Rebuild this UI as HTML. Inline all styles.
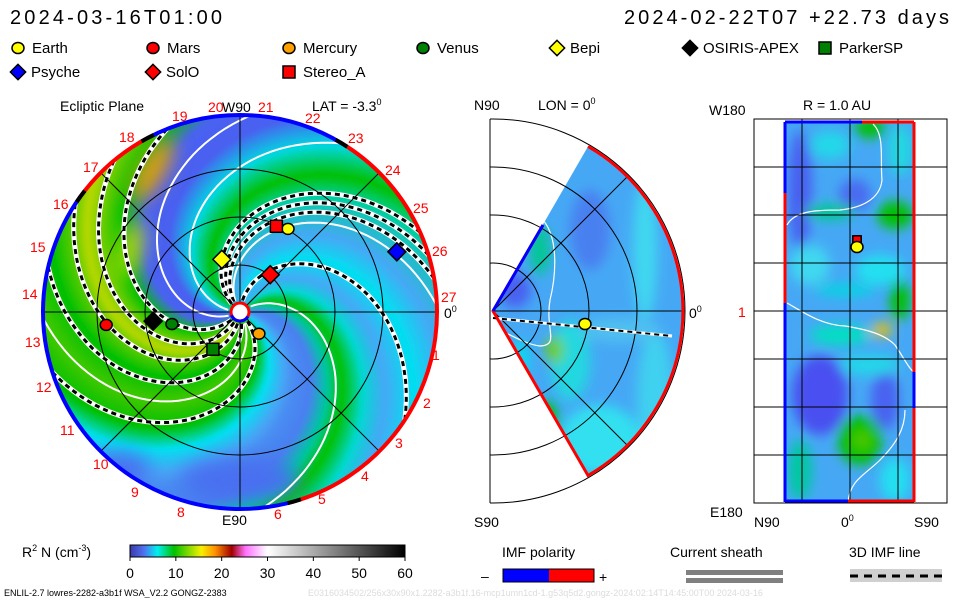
<!DOCTYPE html>
<html><head><meta charset="utf-8"><style>
html,body{margin:0;padding:0;background:#fff;}
svg{display:block;font-family:"Liberation Sans",sans-serif;}
</style></head><body>
<svg id="root" width="960" height="600" viewBox="0 0 960 600" xmlns="http://www.w3.org/2000/svg">
<defs>
<clipPath id="diskClip"><circle cx="240" cy="312" r="197"/></clipPath>
<clipPath id="midClip"><rect x="490" y="118" width="200" height="386"/></clipPath>
<clipPath id="wedgeClip"><path d="M493,311 L588,146.5 A190,190 0 0 1 588,475.5 Z"/></clipPath>
<clipPath id="rectClip"><rect x="785" y="122" width="129" height="380"/></clipPath>
<filter id="blur6" x="-50%" y="-50%" width="200%" height="200%"><feGaussianBlur stdDeviation="6"/></filter>
<filter id="blur10" x="-50%" y="-50%" width="200%" height="200%"><feGaussianBlur stdDeviation="10"/></filter>
<filter id="blur2"><feGaussianBlur stdDeviation="1.5"/></filter>
<linearGradient id="cbar" x1="0" x2="1" y1="0" y2="0">
<stop offset="0" stop-color="#3a3aa8"/><stop offset="0.05" stop-color="#5070f0"/><stop offset="0.1" stop-color="#00f0f0"/>
<stop offset="0.16" stop-color="#00c000"/><stop offset="0.26" stop-color="#f8f000"/><stop offset="0.31" stop-color="#ff9000"/>
<stop offset="0.37" stop-color="#a00000"/><stop offset="0.42" stop-color="#ff70ff"/><stop offset="0.5" stop-color="#ffffff"/>
<stop offset="1" stop-color="#000000"/></linearGradient>
</defs>

<text x="10" y="24" font-size="20" textLength="212">2024-03-16T01:00</text>
<text x="624" y="24" font-size="20" textLength="325">2024-02-22T07 +22.73 days</text>

<g id="legend" font-size="15"></g>

<g>
  <g id="disk" clip-path="url(#diskClip)"></g>
  <g id="diskLines" clip-path="url(#diskClip)"></g>
  <g id="diskGrid" stroke="#000" stroke-width="1" fill="none"></g>
  <g id="diskBorder" fill="none" stroke-width="4"></g>
  <g id="diskLabels" fill="#ff0000" font-size="14"></g>
  <g id="markers"></g>
  <text x="60" y="111" font-size="14">Ecliptic Plane</text>
  <text x="222" y="112" font-size="14">W90</text>
  <text x="312" y="111" font-size="14">LAT = -3.3<tspan font-size="9" dy="-6">0</tspan></text>
  <text x="222" y="525" font-size="14">E90</text>
  <text x="444" y="318" font-size="14">0<tspan font-size="9" dy="-6">0</tspan></text>
</g>

<g>
  <g id="mid"></g>
  <text x="474" y="110" font-size="14">N90</text>
  <text x="538" y="110" font-size="14">LON = 0<tspan font-size="9" dy="-6">0</tspan></text>
  <text x="474" y="527" font-size="14">S90</text>
  <text x="689" y="318" font-size="14">0<tspan font-size="9" dy="-6">0</tspan></text>
</g>

<g>
  <g id="right"></g>
  <text x="709" y="115" font-size="14">W180</text>
  <text x="803" y="110" font-size="14">R = 1.0 AU</text>
  <text x="738" y="317" font-size="14" fill="#ff0000">1</text>
  <text x="710" y="517" font-size="14">E180</text>
  <text x="754" y="527" font-size="14">N90</text>
  <text x="841" y="527" font-size="14">0<tspan font-size="9" dy="-6">0</tspan></text>
  <text x="914" y="527" font-size="14">S90</text>
</g>

<g>
  <text x="22" y="557" font-size="14">R<tspan font-size="9" dy="-6">2</tspan><tspan dy="6"> N (cm</tspan><tspan font-size="9" dy="-6">-3</tspan><tspan dy="6">)</tspan></text>
  <rect x="130" y="545" width="275" height="12" fill="url(#cbar)" stroke="#000" stroke-width="1"/>
  <g id="cbTicks" font-size="14"></g>
</g>

<g>
  <text x="502" y="557" font-size="14">IMF polarity</text>
  <text x="481" y="581" font-size="14">–</text>
  <rect x="503" y="569" width="46" height="13" fill="#0000ff"/>
  <rect x="549" y="569" width="45" height="13" fill="#ff0000"/>
  <rect x="503" y="569" width="91" height="13" fill="none" stroke="#000"/>
  <text x="599" y="582" font-size="14">+</text>
</g>
<g>
  <text x="670" y="557" font-size="14">Current sheath</text>
  <rect x="686" y="570" width="97" height="5" fill="#808080"/>
  <rect x="686" y="578" width="97" height="5" fill="#808080"/>
</g>
<g>
  <text x="849" y="557" font-size="14">3D IMF line</text>
  <rect x="850" y="569" width="92" height="13" fill="#d0d0d0"/>
  <line x1="850" y1="576" x2="942" y2="576" stroke="#000" stroke-width="3" stroke-dasharray="8,6"/>
</g>
<text x="4" y="596" font-size="9">ENLIL-2.7 lowres-2282-a3b1f WSA_V2.2 GONGZ-2383</text>
<text x="308" y="596" font-size="9" fill="#dcdcdc">E0316034502/256x30x90x1.2282-a3b1f.16-mcp1umn1cd-1.g53q5d2.gongz-2024:02:14T14:45:00T00    2024-03-16</text>
</svg>
<script>
// ---- data ----
const bodyNames = ["Earth","Stereo_A","Bepi","SolO","Psyche","Mercury","ParkerSP","Venus","OSIRIS-APEX","Mars"];
const bodyLonDeg = [60,67,109,51,21,-49,234,190,186,185.5];
const bodyRadiusAU = [1.0,0.97,0.58,0.50,1.75,0.30,0.48,0.72,0.91,1.40];
const colorbarTicks = [0,10,20,30,40,50,60];
const phiStops = [0,15,28,40,55,70,90,110,140,155,175,195,215,232,248,256,265,280,300,320,335,350,360];
const phiColors = ["#4a8cf2","#4a80f0","#00c8a0","#00c000","#00d8d0","#46a8f5","#00e0f0","#46a8f5","#00d0a0","#00c000","#00d8e0","#4a60f0","#4a62f0","#00c000","#80d000","#b8d800","#60cc00","#00c000","#40c800","#00c000","#00e0f0","#46a8f5","#4a8cf2"];
const dashPhi = [135,128,142,230,248,265,285,316,85];
const whitePhi = [35,177,300,205,120];

const NS="http://www.w3.org/2000/svg";
const cx=240, cy=312, R=197, pxPerAU=96, K=0.6;
function mk(tag,attrs,parent){const e=document.createElementNS(NS,tag);for(const k in attrs)e.setAttribute(k,attrs[k]);parent.appendChild(e);return e;}
function hex(c){return [parseInt(c.substr(1,2),16),parseInt(c.substr(3,2),16),parseInt(c.substr(5,2),16)];}
function colorAt(phi){phi=((phi%360)+360)%360;for(let i=0;i<phiStops.length-1;i++){if(phi>=phiStops[i]&&phi<=phiStops[i+1]){const t=(phi-phiStops[i])/(phiStops[i+1]-phiStops[i]);const a=hex(phiColors[i]),b=hex(phiColors[i+1]);return "rgb("+a.map((v,j)=>Math.round(v+(b[j]-v)*t)).join(",")+")";}}return phiColors[0];}
function sp(phi,r){const th=(phi-K*r)*Math.PI/180;return [cx+r*Math.cos(th),cy-r*Math.sin(th)];}
function spiralPts(phi,r0,r1){const p=[];for(let r=r0;r<=r1;r+=4)p.push(sp(phi,r));return p;}

// density field
const disk=document.getElementById('disk');
const bg=mk('circle',{cx:cx,cy:cy,r:R,fill:"#46a8f5"},disk);


const field=mk('g',{filter:"url(#blur2)"},disk);
for(let phi=0;phi<360;phi+=2){
  const a=spiralPts(phi,0,212), b=spiralPts(phi+2.6,0,212).reverse();
  const pts=a.concat(b).map(p=>p[0].toFixed(1)+","+p[1].toFixed(1)).join(" ");
  const poly=mk('polygon',{points:pts,fill:colorAt(phi+1)},field);
  
  
}
// orange enhancement near top-left edge
const ob=mk('g',{filter:"url(#blur10)"},disk);


mk('ellipse',{cx:152,cy:170,rx:12,ry:36,fill:"#f0a000",transform:"rotate(30 152 170)"},ob);
mk('ellipse',{cx:130,cy:250,rx:10,ry:30,fill:"#c8e000",transform:"rotate(15 130 250)"},ob);
mk('ellipse',{cx:240,cy:480,rx:60,ry:22,fill:"#4a70f0"},ob);
mk('ellipse',{cx:120,cy:470,rx:30,ry:18,fill:"#4a70f0"},ob);
// field lines
const lines=document.getElementById('diskLines');
whitePhi.forEach(phi=>{
  const d="M"+spiralPts(phi,12,212).map(p=>p[0].toFixed(1)+","+p[1].toFixed(1)).join(" L");
  const l=mk('path',{d:d,fill:"none",stroke:"#fff","stroke-width":2},lines);
  
  
});
dashPhi.forEach(phi=>{
  const d="M"+spiralPts(phi,12,212).map(p=>p[0].toFixed(1)+","+p[1].toFixed(1)).join(" L");
  const w=mk('path',{d:d,fill:"none",stroke:"#fff","stroke-width":5},lines);
  
  
  const k=mk('path',{d:d,fill:"none",stroke:"#000","stroke-width":3,"stroke-dasharray":"5,4"},lines);
  
  
});
// grid
const grid=document.getElementById('diskGrid');
[0.5,1.0,1.5].forEach(au=>{const c=mk('circle',{cx:cx,cy:cy,r:au*pxPerAU-1},grid);});
[0,45,90,135].forEach(a=>{const t=a*Math.PI/180;const l=mk('line',{x1:cx-R*Math.cos(t),y1:cy+R*Math.sin(t),x2:cx+R*Math.cos(t),y2:cy-R*Math.sin(t)},grid);});
// border arcs
const borderSegs=[[-74,59,"#ff0000"],[59,118,"#0000ff"],[118,144,"#ff0000"],[144,286,"#0000ff"]];
const bord=document.getElementById('diskBorder');
function arcPath(a0,a1,r){const p0=[cx+r*Math.cos(a0*Math.PI/180),cy-r*Math.sin(a0*Math.PI/180)],p1=[cx+r*Math.cos(a1*Math.PI/180),cy-r*Math.sin(a1*Math.PI/180)];return "M"+p0[0]+","+p0[1]+" A"+r+","+r+" 0 "+((a1-a0)>180?1:0)+" 0 "+p1[0]+","+p1[1];}
borderSegs.forEach(s=>{const p=mk('path',{d:arcPath(s[0],s[1],R),stroke:s[2]},bord);});
[59,118,144,-74].forEach(a=>{const p=mk('path',{d:arcPath(a-2,a+2,R),stroke:"#000"},bord);});
// carrington labels
const labNames=["19","20","21","22","23","24","25","26","27","1","2","3","4","5","6","8","9","10","11","12","13","14","15","16","17","18"];
const labX=[172,208,258,305,348,385,413,432,441,432,423,395,361,318,274,177,131,93,60,36,25,22,30,53,83,119];
const labY=[121,112,112,123,143,175,213,256,302,360,408,448,481,504,519,517,497,469,435,392,347,299,252,209,172,142];
const ll=document.getElementById('diskLabels');
labNames.forEach((n,i)=>{const t=mk('text',{x:labX[i],y:labY[i]},ll);t.textContent=n;});
// sun
const sunG=mk('g',{},document.getElementById('markers'));


mk('circle',{cx:cx,cy:cy,r:9,fill:"#fff",stroke:"#ff0000","stroke-width":3},sunG);
mk('path',{d:arcPath(200,330,9),stroke:"#0000ff","stroke-width":3,fill:"none"},sunG);

// markers
const styles={"Earth":["circle","#ffff00"],"Stereo_A":["square","#ff0000"],"Bepi":["diamond","#ffff00"],"SolO":["diamond","#ff0000"],"Psyche":["diamond","#0000ff"],"Mercury":["circle","#ffa000"],"ParkerSP":["square","#008000"],"Venus":["circle","#008000"],"OSIRIS-APEX":["diamond","#000000"],"Mars":["circle","#ff0000"]};
function marker(shape,fill,x,y,parent,s){
  s=s||1;
  if(shape==="circle")return mk('ellipse',{cx:x,cy:y,rx:6*s,ry:5.5*s,fill:fill,stroke:"#000","stroke-width":1.5},parent);
  if(shape==="square")return mk('rect',{x:x-6*s,y:y-6*s,width:12*s,height:12*s,fill:fill,stroke:"#000","stroke-width":1.5},parent);
  return mk('polygon',{points:[x,y-9*s,x+9*s,y,x,y+9*s,x-9*s,y].join(","),fill:fill,stroke:"#000","stroke-width":1.5},parent);
}
const mg=document.getElementById('markers');
bodyNames.forEach((n,i)=>{const t=bodyLonDeg[i]*Math.PI/180,r=bodyRadiusAU[i]*pxPerAU;const m=marker(styles[n][0],styles[n][1],cx+r*Math.cos(t),cy-r*Math.sin(t),mg);});

// legend
const legNames=["Earth","Mars","Mercury","Venus","Bepi","OSIRIS-APEX","ParkerSP","Psyche","SolO","Stereo_A"];
const legCol=[0,1,2,3,4,5,6,0,1,2], legRow=[0,0,0,0,0,0,0,1,1,1];
const legX=[18,153,289,423,557,690,825];
const lg=document.getElementById('legend');
legNames.forEach((n,i)=>{const st=styles[n];const x=legX[legCol[i]],y=48+legRow[i]*24;
  const g=mk('g',{},lg);
  marker(st[0],st[1],x,y,g,st[0]==="diamond"?0.85:1);
  const t=mk('text',{x:x+(st[0]==="diamond"?13:14),y:y+5},g);t.textContent=n;});

// colorbar ticks
const cb=document.getElementById('cbTicks');
colorbarTicks.forEach(v=>{const x=130+v*275/60;
  const l=mk('line',{x1:x,y1:557,x2:x,y2:561,stroke:"#000"},cb);
  const t=mk('text',{x:x,y:578,"text-anchor":"middle"},cb);t.textContent=v;});

// meridional panel
const mid=document.getElementById('mid');
const mc=[493,311];
const mgrid=mk('g',{"clip-path":"url(#midClip)",fill:"none",stroke:"#000","stroke-width":1},mid);
[48,96,144,192].forEach(r=>mk('circle',{cx:mc[0],cy:mc[1],r:r},mgrid));
mk('line',{x1:490,y1:119,x2:490,y2:503,stroke:"#000"},mid);
const wedge=mk('g',{"clip-path":"url(#wedgeClip)"},mid);


mk('rect',{x:490,y:140,width:200,height:340,fill:"#46a8f5"},wedge);
const wb=mk('g',{filter:"url(#blur6)"},wedge);
const midBlobs=[[645,250,12,70,"#3fd8f0"],[655,400,18,70,"#3fd0f0"],[600,440,40,35,"#30e0f0"],[570,360,20,40,"#20d8e0"],[555,350,9,14,"#70d000"],[548,420,10,20,"#00c000"],[540,250,10,25,"#00c890"],[515,290,16,18,"#4a60f0"],[590,230,20,40,"#4a80f0"],[620,330,40,12,"#50c0f0"],[520,360,8,20,"#00e0f0"]];
midBlobs.forEach(b=>mk('ellipse',{cx:b[0],cy:b[1],rx:b[2],ry:b[3],fill:b[4]},wb));
mk('path',{d:"M543,220 C560,240 555,280 550,300 C545,330 560,345 540,346 C530,345 520,340 500,330",fill:"none",stroke:"#fff","stroke-width":1.2},wedge);
const mg2=mk('g',{"clip-path":"url(#wedgeClip)",fill:"none",stroke:"#000","stroke-width":1},mid);
[48,96,144].forEach(r=>mk('circle',{cx:mc[0],cy:mc[1],r:r},mg2));
mk('line',{x1:493,y1:311,x2:682,y2:311},mg2);
mk('line',{x1:493,y1:311,x2:630,y2:174},mg2);
mk('line',{x1:493,y1:311,x2:630,y2:448},mg2);
mk('line',{x1:493,y1:318,x2:672,y2:336,stroke:"#fff","stroke-width":3},mid);
mk('line',{x1:493,y1:318,x2:672,y2:336,stroke:"#000","stroke-width":2,"stroke-dasharray":"5,4"},mid);
mk('path',{d:"M588,146.5 A190,190 0 0 1 588,475.5 L493,311 L543,225",fill:"none",stroke:"#ff0000","stroke-width":3},mid);
mk('line',{x1:493,y1:311,x2:543,y2:225,stroke:"#0000ff","stroke-width":3},mid);
const me=marker("circle","#ffff00",585,324,mid);



// right panel
const rp=document.getElementById('right');
const rf=mk('g',{"clip-path":"url(#rectClip)"},rp);


mk('rect',{x:785,y:122,width:129,height:380,fill:"#46a8f5"},rf);
const rb=mk('g',{filter:"url(#blur6)"},rf);
const rBlobs=[[830,145,20,14,"#20d8e8"],[800,190,12,60,"#4a5ef0"],[855,195,16,16,"#4a6af0"],[870,128,16,10,"#00c000"],[900,150,12,25,"#20d8e0"],[895,215,18,14,"#00c000"],[830,212,25,8,"#00c890"],[810,265,20,20,"#3fd8f0"],[880,270,25,15,"#20e0f0"],[845,290,30,6,"#00d8e0"],[900,300,10,20,"#00c000"],[882,330,10,7,"#f0c000"],[840,335,30,10,"#00e0c0"],[820,395,28,40,"#4a50f0"],[885,400,14,30,"#4a62f0"],[860,440,22,25,"#00c000"],[862,440,9,9,"#50c800"],[800,470,12,30,"#00c8a0"],[895,480,15,22,"#20e0f0"],[870,365,30,10,"#20d8e8"]];
rBlobs.forEach(b=>mk('ellipse',{cx:b[0],cy:b[1],rx:b[2],ry:b[3],fill:b[4]},rb));
mk('path',{d:"M873,124 C885,135 880,160 882,180 C880,200 860,208 840,210 C820,210 795,210 787,225",fill:"none",stroke:"#fff","stroke-width":1.2},rf);
mk('path',{d:"M787,303 C800,310 820,325 845,326 C870,330 885,335 895,345 C905,360 910,370 914,372",fill:"none",stroke:"#fff","stroke-width":1.2},rf);
mk('path',{d:"M905,410 C905,430 895,445 880,460 C865,475 850,480 848,502",fill:"none",stroke:"#fff","stroke-width":1.2},rf);
const rg=mk('g',{stroke:"#000","stroke-width":1,fill:"none"},rp);


mk('rect',{x:754,y:119,width:193,height:384},rg);
[167,215,263,311,359,407,455].forEach(y=>mk('line',{x1:754,y1:y,x2:947,y2:y},rg));
[802,850,898].forEach(x=>mk('line',{x1:x,y1:119,x2:x,y2:503},rg));
const rbd=mk('g',{"stroke-width":3,fill:"none"},rp);
mk('line',{x1:785,y1:122,x2:862,y2:122,stroke:"#0000ff"},rbd);
mk('line',{x1:862,y1:122,x2:914,y2:122,stroke:"#ff0000"},rbd);
mk('line',{x1:785,y1:501,x2:848,y2:501,stroke:"#0000ff"},rbd);
mk('line',{x1:848,y1:501,x2:914,y2:501,stroke:"#ff0000"},rbd);
mk('line',{x1:785,y1:122,x2:785,y2:193,stroke:"#0000ff"},rbd);
mk('line',{x1:785,y1:193,x2:785,y2:303,stroke:"#ff0000"},rbd);
mk('line',{x1:785,y1:303,x2:785,y2:502,stroke:"#0000ff"},rbd);
mk('line',{x1:914,y1:122,x2:914,y2:372,stroke:"#ff0000"},rbd);
mk('line',{x1:914,y1:372,x2:914,y2:408,stroke:"#0000ff"},rbd);
mk('line',{x1:914,y1:408,x2:914,y2:502,stroke:"#ff0000"},rbd);
const rs=marker("square","#ff0000",857,240,rp,0.7);


const re=marker("circle","#ffff00",857,247,rp);


</script>
</body></html>
